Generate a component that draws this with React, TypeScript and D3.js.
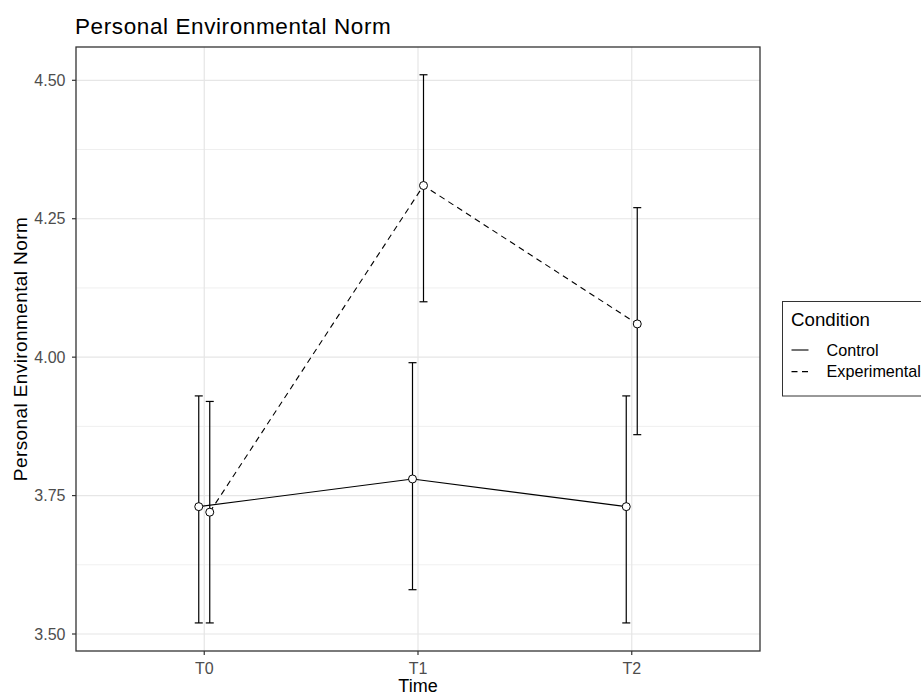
import React from "react";
import * as d3 from "d3";

const times = ["T0", "T1", "T2"];
const conditions = ["Control", "Experimental"];
const controlMean = [3.73, 3.78, 3.73];
const controlLow = [3.52, 3.58, 3.52];
const controlHigh = [3.93, 3.99, 3.93];
const expMean = [3.72, 4.31, 4.06];
const expLow = [3.52, 4.10, 3.86];
const expHigh = [3.92, 4.51, 4.27];
const yTicks = [3.5, 3.75, 4.0, 4.25, 4.5];
const yMinor = [3.625, 3.875, 4.125, 4.375];

const W = 921;
const H = 698;
const panel = { left: 76, top: 47, right: 760, bottom: 651 };
const font = "'Liberation Sans', Arial, sans-serif";

const App = () => {
  const x = d3.scalePoint().domain(times).range([panel.left, panel.right]).padding(0.6);
  const y = d3.scaleLinear().domain([3.5, 4.5]).range([634, 80.3]);
  const dodge = 5.5;

  const series = [
    { name: conditions[0], mean: controlMean, low: controlLow, high: controlHigh, off: -dodge, dash: null },
    { name: conditions[1], mean: expMean, low: expLow, high: expHigh, off: dodge, dash: "6,4.5" },
  ];

  return (
    <svg width={W} height={H} style={{ position: "absolute", left: 0, top: 0, background: "#fff" }}>
      <text x={75} y={34.3} fontFamily={font} fontSize={22.5} letterSpacing={0.6} fill="#000">Personal Environmental Norm</text>

      {/* grid */}
      {yMinor.map(v => (
        <line key={"mi" + v} x1={panel.left} x2={panel.right} y1={y(v)} y2={y(v)} stroke="#ebebeb" strokeWidth={0.8} />
      ))}
      {yTicks.map(v => (
        <line key={"ma" + v} x1={panel.left} x2={panel.right} y1={y(v)} y2={y(v)} stroke="#e6e6e6" strokeWidth={1.2} />
      ))}
      {times.map(t => (
        <line key={"gx" + t} x1={x(t)} x2={x(t)} y1={panel.top} y2={panel.bottom} stroke="#e6e6e6" strokeWidth={1.2} />
      ))}

      {/* series */}
      {series.map(s => {
        const pts = s.mean.map((m, i) => [(x(times[i]) as number) + s.off, y(m)] as [number, number]);
        const path = d3.line()(pts) as string;
        return (
          <g key={s.name}>
            {s.mean.map((m, i) => {
              const cx = (x(times[i]) as number) + s.off;
              return (
                <g key={i} stroke="#000" strokeWidth={1.2}>
                  <line x1={cx} x2={cx} y1={y(s.low[i])} y2={y(s.high[i])} />
                  <line x1={cx - 4} x2={cx + 4} y1={y(s.low[i])} y2={y(s.low[i])} />
                  <line x1={cx - 4} x2={cx + 4} y1={y(s.high[i])} y2={y(s.high[i])} />
                </g>
              );
            })}
            <path d={path} fill="none" stroke="#000" strokeWidth={1.1} strokeDasharray={s.dash ?? undefined} />
            {pts.map((p, i) => (
              <circle key={i} cx={p[0]} cy={p[1]} r={4} fill="#fff" stroke="#000" strokeWidth={1} />
            ))}
          </g>
        );
      })}

      {/* panel border */}
      <rect x={panel.left} y={panel.top} width={panel.right - panel.left} height={panel.bottom - panel.top}
        fill="none" stroke="#333" strokeWidth={1.3} />

      {/* y axis */}
      {yTicks.map(v => (
        <g key={"yt" + v}>
          <line x1={panel.left - 4} x2={panel.left} y1={y(v)} y2={y(v)} stroke="#333" strokeWidth={1.2} />
          <text x={65.5} y={y(v)} dy="0.36em" textAnchor="end" fontFamily={font} fontSize={16} fill="#4d4d4d">
            {d3.format(".2f")(v)}
          </text>
        </g>
      ))}
      {/* x axis */}
      {times.map(t => (
        <g key={"xt" + t}>
          <line x1={x(t)} x2={x(t)} y1={panel.bottom} y2={panel.bottom + 4} stroke="#333" strokeWidth={1.2} />
          <text x={x(t)} y={674} textAnchor="middle" fontFamily={font} fontSize={16} fill="#4d4d4d">{t}</text>
        </g>
      ))}
      <text x={(panel.left + panel.right) / 2} y={692} textAnchor="middle" fontFamily={font} fontSize={18} fill="#000">Time</text>
      <text transform={`translate(26.5,${(panel.top + panel.bottom) / 2}) rotate(-90)`} textAnchor="middle"
        fontFamily={font} fontSize={19} letterSpacing={0.4} fill="#000">Personal Environmental Norm</text>

      {/* legend */}
      <rect x={782.5} y={301.5} width={150} height={94.5} fill="#fff" stroke="#333" strokeWidth={1} />
      <text x={791} y={325.7} fontFamily={font} fontSize={18.7} fill="#000">Condition</text>
      {series.map((s, i) => (
        <g key={"lg" + s.name}>
          <line x1={791.5} x2={808.5} y1={350 + i * 21.6} y2={350 + i * 21.6} stroke="#000" strokeWidth={1.1}
            strokeDasharray={s.dash ?? undefined} />
          <text x={826.5} y={355.7 + i * 21.6} fontFamily={font} fontSize={16.2} fill="#000">{s.name}</text>
        </g>
      ))}
    </svg>
  );
};

export default App;
